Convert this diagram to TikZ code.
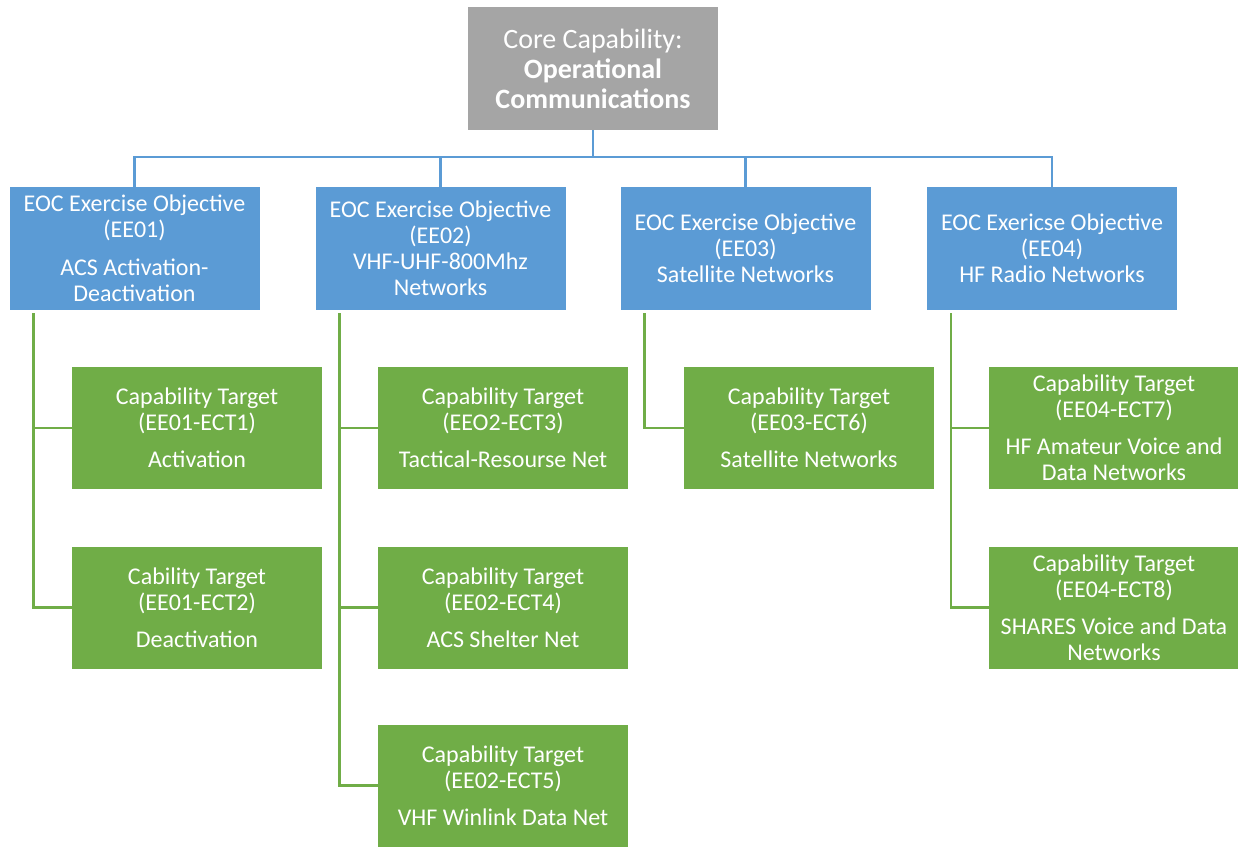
\documentclass[tikz,border=0pt]{standalone}
\usepackage{fontspec}
\setmainfont{Carlito}
\definecolor{cgray}{HTML}{A5A5A5}
\definecolor{cblue}{HTML}{5B9BD5}
\definecolor{cgreen}{HTML}{70AD47}
\tikzset{
  topbox/.style={fill=cgray, text=white, minimum width=250pt, minimum height=123pt, inner sep=0pt, align=center, font=\fontsize{28}{30}\selectfont},
  objbox/.style={fill=cblue, text=white, minimum width=250pt, minimum height=123pt, inner sep=0pt, align=center, font=\fontsize{24}{26}\selectfont},
  tgtbox/.style={fill=cgreen, text=white, minimum width=250pt, minimum height=122pt, inner sep=0pt, align=center, font=\fontsize{24}{26}\selectfont},
  bline/.style={draw=cblue, line width=2.5pt},
  gline/.style={draw=cgreen, line width=2.5pt}
}
\begin{document}
\begin{tikzpicture}[x=1pt,y=-1pt]
\useasboundingbox (0,0) rectangle (1238,846);
\node[topbox] (top) at (593,68.5) {Core Capability:\\ \textbf{Operational}\\ \textbf{Communications}};
\node[objbox] (b1) at (134.5,248.5) {EOC Exercise Objective\\ (EE01)\\[12pt] ACS Activation-\\ Deactivation};
\node[objbox] (b2) at (440.5,248.5) {EOC Exercise Objective\\ (EE02)\\ VHF-UHF-800Mhz\\ Networks};
\node[objbox] (b3) at (745.5,248.5) {EOC Exercise Objective\\ (EE03)\\ Satellite Networks};
\node[objbox] (b4) at (1052,248.5) {EOC Exericse Objective\\ (EE04)\\ HF Radio Networks};
\node[tgtbox] (g11) at (197,428) {Capability Target\\ (EE01-ECT1)\\[11pt] Activation};
\node[tgtbox] (g12) at (197,607.5) {Cability Target\\ (EE01-ECT2)\\[11pt] Deactivation};
\node[tgtbox] (g21) at (503,428) {Capability Target\\ (EEO2-ECT3)\\[11pt] Tactical-Resourse Net};
\node[tgtbox] (g22) at (503,607.5) {Capability Target\\ (EE02-ECT4)\\[11pt] ACS Shelter Net};
\node[tgtbox] (g23) at (503,785.5) {Capability Target\\ (EE02-ECT5)\\[11pt] VHF Winlink Data Net};
\node[tgtbox] (g31) at (809,428) {Capability Target\\ (EE03-ECT6)\\[11pt] Satellite Networks};
\node[tgtbox] (g41) at (1114,428) {Capability Target\\ (EE04-ECT7)\\[11pt] HF Amateur Voice and\\ Data Networks};
\node[tgtbox] (g42) at (1114,607.5) {Capability Target\\ (EE04-ECT8)\\[11pt] SHARES Voice and Data\\ Networks};
% blue connectors
\draw[bline] (top.south) -- ++(0,27);
\draw[bline] (b1.north) -- ++(0,-30) -| (b4.north);
\draw[bline] (b2.north) -- ++(0,-30);
\draw[bline] (b3.north) -- ++(0,-30);
% green connectors
\coordinate (s1) at ([xshift=24pt,yshift=-3pt]b1.south west);
\coordinate (s2) at ([xshift=24pt,yshift=-3pt]b2.south west);
\coordinate (s3) at ([xshift=24pt,yshift=-3pt]b3.south west);
\coordinate (s4) at ([xshift=24pt,yshift=-3pt]b4.south west);
\draw[gline] (s1) |- (g12.west);
\draw[gline] (s1 |- g11.west) -- (g11.west);
\draw[gline] (s2) |- (g23.west);
\draw[gline] (s2 |- g21.west) -- (g21.west);
\draw[gline] (s2 |- g22.west) -- (g22.west);
\draw[gline] (s3) |- (g31.west);
\draw[gline] (s4) |- (g42.west);
\draw[gline] (s4 |- g41.west) -- (g41.west);
\end{tikzpicture}
\end{document}
